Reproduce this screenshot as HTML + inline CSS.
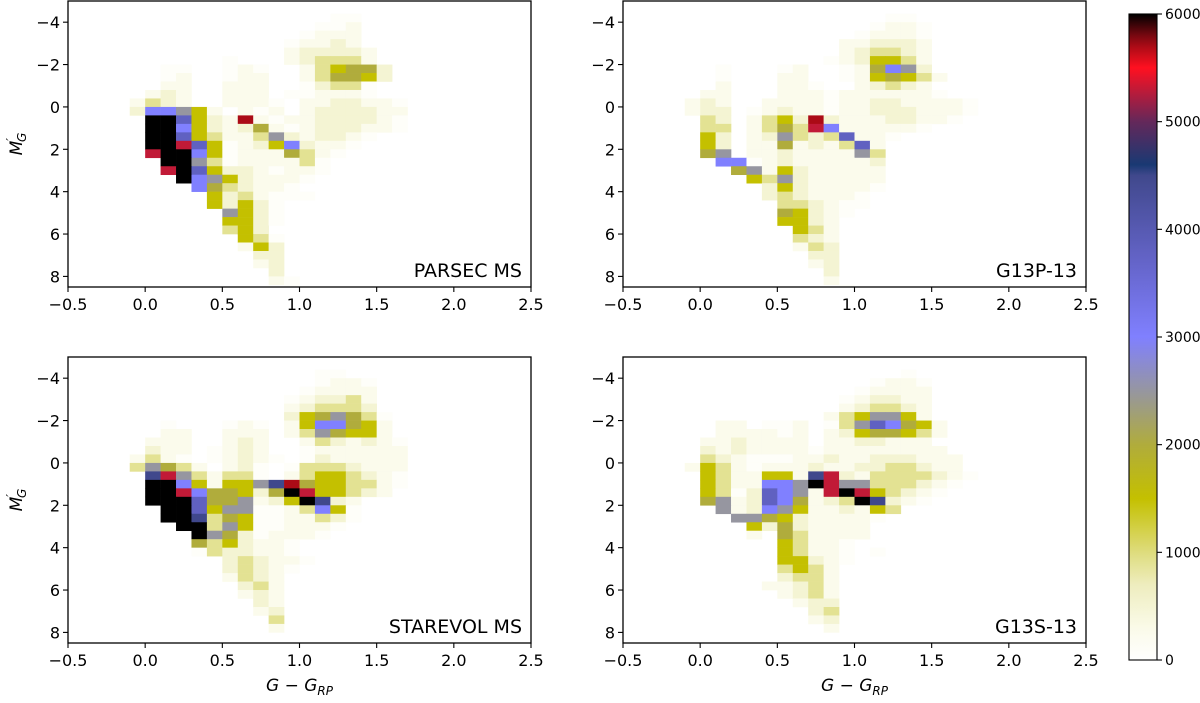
<!DOCTYPE html>
<html><head><meta charset="utf-8">
<style>
html,body{margin:0;padding:0;background:#fff;}
svg{display:block;font-family:"DejaVu Sans","Liberation Sans",sans-serif;}
</style></head>
<body>
<svg id="fig" width="1200" height="703" viewBox="0 0 1200 703" xmlns="http://www.w3.org/2000/svg">
<defs>
<linearGradient id="cbgrad" x1="0" y1="1" x2="0" y2="0"></linearGradient>
</defs>
</svg>
<script>
// ---- data ----
const levelCodes = ".abcdefghijklm";
const levelValues = [0,80,250,500,900,1500,2000,2500,3000,3800,4500,5300,5700,6000];
const colorBinStart = -0.1, colorBinWidth = 0.1;
const magBinStart = -4.8, magBinHeight = 0.4;
const panelNames = ["PARSEC MS","G13P-13","STAREVOL MS","G13S-13"];
const xTicks = [-0.5,0.0,0.5,1.0,1.5,2.0,2.5];
const xTickLabels = ["\u22120.5","0.0","0.5","1.0","1.5","2.0","2.5"];
const yTicks = [-4,-2,0,2,4,6,8];
const yTickLabels = ["\u22124","\u22122","0","2","4","6","8"];
const cbTicks = [0,1000,2000,3000,4000,5000,6000];
const gridParsec = [
"...................",
".............aa....",
"............aab....",
"...........abbb....",
"..........abbcb....",
"..........bccccb...",
"......a...bcdddb...",
"..aa..aba..bdeffc..",
"..ab..abb..bdffec..",
"..bb..bbb..acdda...",
".bcb..bbb.aabbba...",
"bdcb..bbba.bbccbba.",
"chhgeb.bab.bccccbb.",
".mmiecblbabbccccba.",
".mmhecbcfbabcccbba.",
".mmiedbbdgcbccba...",
".mmkieabcehcbba....",
".kmmheabbbfdba.....",
"..mmgdabbbbda......",
"..kmieccbabba......",
"...mhgecbbba.......",
"....hfdcbba........",
".....ecdbaaa.......",
".....ececa.........",
"......geca.........",
"......eeca.........",
"......dec..........",
".......eda.........",
".......bec.........",
"........cc.........",
"........bc.........",
".........c.........",
".........ba........",
"..........a........"];
const gridG13P = [
"...................",
".............aa....",
"............abba...",
"...........abbba...",
"..........bbcccb...",
"..........bcddcb...",
".........abceedb...",
"..a...ab..abfhgc...",
"..a...bb..abefedb..",
"..b...bba..bcdcb...",
".bb...bbbabbbbbba..",
"bcb..bbbbabbccbbbba",
"bcc.abcbbabbcccbbba",
".dc.bdeclcbbbccbba.",
".dd.bdfdkhbbbbba...",
".ec.bcgdcdibba.....",
".ec.bbfbcbdib......",
".fg.bbcbbbbgd......",
"..hhabcbbbbbc......",
"...fgbecbbbbb......",
"....edgcbbbbb......",
".....cecbbbba......",
".....cdcbbba.......",
"......ddcbaa.......",
"......fecba........",
"......eecb.........",
".......edb.........",
".......dcb.........",
".......bdc.........",
"........cc.........",
"........bc.........",
".........c.........",
".........b.........",
"..........a........"];
const gridStarevol = [
"...................",
"............aa.....",
"............abba...",
"...........abbbb...",
"..........abccdb...",
"..........bcdddc...",
"..........cefgfda..",
"..a...aba.behhfeb..",
"..bb..bbb.bdgfeeb..",
".bbb..bcb..bdcbcba.",
".cbb.abcb..abbbbbb.",
"bdba.abcba.acbbbbb.",
"dgfdb.bca.adddcbbb.",
".jkgdbdda.bdeedcba.",
".mmhebeegjlfeeddba.",
".mmkhffecfmkeedcb..",
".mmmiffgbcemjcb....",
"..mmieggaabdhea....",
"..mmjdfeaabbdca....",
"...mmdgeaabbba.....",
"....mgfcabbba......",
"....fdecbba........",
"....adccbba........",
"......cdcbba.......",
"......cdcba........",
"......bdcb.........",
".......cdb.........",
".......bcb.........",
"........cb.........",
"........bc.........",
".........d.........",
".........b.........",
"...................",
"..................."];
const gridG13S = [
"...................",
"..............a....",
"............abba...",
"...........abbbb...",
"..........abccbb...",
"..........bcddcb...",
".........bdeggeb...",
"..bb.aab.adgihfeb..",
"..bbbbab.bceffedb..",
".bbcbbbb.bbccbbb...",
".cbcbbbbabbbbbbbb..",
".dcbaaabbcbbcccbbb.",
"bedbabbbcbbccddcbb.",
".edbbeebjkcbddddcba",
".edbbhhgmkggdddcba.",
".edacihgbkmkedcba..",
".fgbcihfbcdmjcba...",
"..gbchgebbcbed.....",
"...ggfecbbbba......",
"....ecfcbbbb.......",
"....b.fdbbbb.......",
"......edbba........",
"......edbba.a......",
"......eecba........",
"......dedb.........",
"......cddb.........",
".....bbcdb.........",
"......bcdb.........",
".......bcc.........",
"........cd.........",
"........bc.........",
".........b.........",
"...................",
"..................."];
const panelGrids = [gridParsec, gridG13P, gridStarevol, gridG13S];

// ---- layout ----
const NS = "http://www.w3.org/2000/svg";
const svg = document.getElementById("fig");
const panelOrigins = [[68,1],[623,1],[68,357],[623,357]];
const PW = 463, PH = 286;
const X_MIN=-0.5, X_MAX=2.5, Y_MIN=-5, Y_MAX=8.5;
const VMAX = 6000;
const cmapStops = [[0,[255,255,255]],[300,[250,250,232]],[700,[238,237,190]],[1000,[222,220,125]],[1500,[196,192,0]],[2000,[176,172,60]],[2500,[150,150,160]],[3000,[128,128,255]],[3700,[100,100,200]],[4500,[64,72,140]],[4520,[10,60,120]],[5000,[100,40,90]],[5500,[255,16,32]],[5750,[150,10,20]],[6000,[0,0,0]]];
function cmap(v){
  v=Math.max(0,Math.min(VMAX,v));
  for(let i=1;i<cmapStops.length;i++){
    const [v1,c1]=cmapStops[i], [v0,c0]=cmapStops[i-1];
    if(v<=v1){const t=(v-v0)/(v1-v0||1);
      return "rgb("+c0.map((c,k)=>Math.round(c+(c1[k]-c)*t)).join(",")+")";}
  }
  return "rgb(0,0,0)";
}
function mk(tag, attrs, parent){
  const e=document.createElementNS(NS,tag);
  for(const k in attrs) e.setAttribute(k,attrs[k]);
  (parent||svg).appendChild(e); return e;
}

panelNames.forEach((name,p)=>{
  const [x0,y0]=panelOrigins[p];
  const xs = c => x0 + (c-X_MIN)/(X_MAX-X_MIN)*PW;
  const ys = m => y0 + (m-Y_MIN)/(Y_MAX-Y_MIN)*PH;
  const g = mk("g",{});
  
  
  const cells = mk("g",{},g);
  
  
  panelGrids[p].forEach((row,r)=>{
    for(let i=0;i<row.length;i++){
      const v = levelValues[levelCodes.indexOf(row[i])] || 0;
      if(v<=0) continue;
      const c0 = colorBinStart + colorBinWidth*i, c1 = c0+colorBinWidth;
      const m0 = magBinStart + magBinHeight*r, m1 = m0+magBinHeight;
      const ya = Math.max(ys(m0),y0), yb = Math.min(ys(m1),y0+PH);
      if(yb<=ya) continue;
      const rc = mk("rect",{x:xs(c0).toFixed(2),y:ya.toFixed(2),width:(xs(c1)-xs(c0)+0.3).toFixed(2),height:(yb-ya+0.3).toFixed(2),fill:cmap(v)},cells);
      
      
    }
  });
  const frame = mk("rect",{x:x0,y:y0,width:PW,height:PH,fill:"none",stroke:"#000","stroke-width":1.3},g);
  
  
  xTicks.forEach((t,k)=>{
    const x=xs(t);
    mk("line",{x1:x,y1:y0+PH,x2:x,y2:y0+PH+5,stroke:"#000","stroke-width":1.1},g);
    const tx=mk("text",{x:x,y:y0+PH+23,"font-size":16,"text-anchor":"middle",fill:"#000"},g);
    tx.textContent=xTickLabels[k];
    
    
  });
  yTicks.forEach((t,k)=>{
    const y=ys(t);
    mk("line",{x1:x0-5,y1:y,x2:x0,y2:y,stroke:"#000","stroke-width":1.1},g);
    const tx=mk("text",{x:x0-8,y:y+6,"font-size":16,"text-anchor":"end",fill:"#000"},g);
    tx.textContent=yTickLabels[k];
    
    
  });
  const lab=mk("text",{x:x0+PW-9,y:y0+PH-10,"font-size":19,"text-anchor":"end",fill:"#000"},g);
  lab.textContent=name;
  
  
  if(p%2===0){
    const yl=mk("text",{x:0,y:0,"font-size":17,"text-anchor":"middle","font-style":"italic",transform:"translate(22,"+(y0+PH/2)+") rotate(-90)"},g);
    yl.innerHTML='M<tspan font-size="12" dy="-7">\u2032</tspan><tspan font-size="12" dy="11" dx="-4">G</tspan>';
    
    
  }
  if(p>=2){
    const xl=mk("text",{x:x0+PW/2,y:y0+PH+48,"font-size":17,"text-anchor":"middle"},g);
    xl.innerHTML='<tspan font-style="italic">G</tspan> \u2212 <tspan font-style="italic">G</tspan><tspan font-size="12" dy="4" font-style="italic">RP</tspan>';
    
    
  }
});

// ---- colorbar ----
const grad=document.getElementById("cbgrad");
for(let k=0;k<=60;k++){
  const v=k*100;
  mk("stop",{offset:(v/VMAX).toFixed(4),"stop-color":cmap(v)},grad);
}
const CBX=1129, CBW=28, CBT=14, CBB=660;
const cbg=mk("g",{});


mk("rect",{x:CBX,y:CBT,width:CBW,height:CBB-CBT,fill:"url(#cbgrad)",stroke:"#000","stroke-width":1.1},cbg);
cbTicks.forEach(t=>{
  const y=CBB-(t/VMAX)*(CBB-CBT);
  mk("line",{x1:CBX+CBW,y1:y,x2:CBX+CBW+5,y2:y,stroke:"#000","stroke-width":1.1},cbg);
  const tx=mk("text",{x:CBX+CBW+8,y:y+5,"font-size":14,fill:"#000"},cbg);
  tx.textContent=String(t);
  
  
});
</script>
</body></html>
